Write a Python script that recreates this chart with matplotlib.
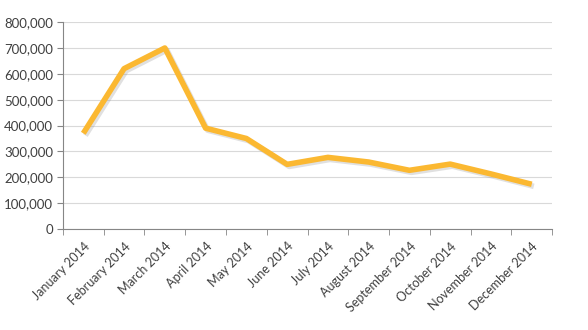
import matplotlib.pyplot as plt
import matplotlib.patheffects as pe
from matplotlib.ticker import FuncFormatter
import numpy as np

months = ["January 2014", "February 2014", "March 2014", "April 2014", "May 2014",
          "June 2014", "July 2014", "August 2014", "September 2014", "October 2014",
          "November 2014", "December 2014"]
values = [370000, 620000, 700000, 390000, 350000, 250000,
          277000, 259000, 227000, 251000, 213000, 173000]

plt.rcParams["font.family"] = ["Lato", "DejaVu Sans"]

fig = plt.figure(figsize=(5.88, 3.30), dpi=100)
ax = fig.add_axes([0.107, 0.306, 0.832, 0.627])

x = np.arange(len(months))
# soft drop shadow under the line, like the Excel style
ax.plot(x, values, color="#FBB831", linewidth=4, solid_capstyle="butt", zorder=3,
        path_effects=[pe.SimpleLineShadow(offset=(1.5, -1.5), shadow_color="#9a9a9a", alpha=0.3),
                      pe.Normal()])

ax.set_xlim(-0.5, len(months) - 0.5)
ax.set_ylim(0, 800000)
ax.set_yticks(range(0, 800001, 100000))
ax.yaxis.set_major_formatter(FuncFormatter(lambda v, _: f"{int(v):,}"))
ax.grid(axis="y", color="#D9D9D9", linewidth=0.8)
ax.set_axisbelow(True)

ax.set_xticks(x)
ax.set_xticklabels(months, rotation=45, ha="right", rotation_mode="anchor")
ax.set_xticks(np.arange(-0.5, len(months)), minor=True)
ax.tick_params(axis="x", which="major", length=0, pad=8, labelsize=9, labelcolor="#404040")
ax.tick_params(axis="x", which="minor", length=4, color="#868686", direction="out")
ax.tick_params(axis="y", length=4, color="#868686", labelsize=9.5, labelcolor="#404040", pad=3)

for side in ["top", "right"]:
    ax.spines[side].set_visible(False)
for side in ["left", "bottom"]:
    ax.spines[side].set_color("#868686")

fig.savefig("out.png", dpi=100)
